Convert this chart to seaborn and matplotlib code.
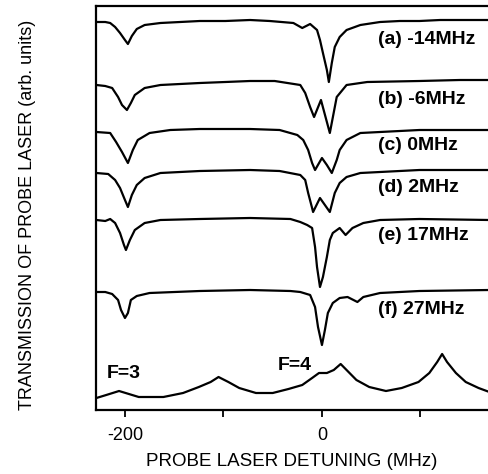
import matplotlib
matplotlib.use("Agg")
import matplotlib.pyplot as plt
import seaborn as sns
import pandas as pd
from matplotlib.ticker import FixedLocator

# ---------------- data ----------------
det_a = [-229, -220, -215, -210, -205, -200, -197, -193, -188, -180, -164, -144, -124, -98, -73, -53,
         -29, -20, -12, -5, -2, 1, 5, 7, 10, 13, 18, 25, 39, 59, 79, 99, 120, 140, 170]
sig_a = [388, 388, 387, 383, 377, 370, 366, 374, 381, 385, 387, 388, 389, 389, 390, 389,
         387, 382, 386, 380, 370, 357, 340, 328, 347, 363, 373, 380, 385, 388, 389, 389, 390, 390, 390]

det_b = [-229, -220, -213, -207, -203, -198, -194, -190, -180, -164, -144, -124, -98, -73, -48,
         -22, -17, -12, -8, -1, 8, 15, 25, 46, 99, 140, 170]
sig_b = [325, 324, 322, 313, 305, 300, 307, 315, 322, 325, 326, 327, 328, 329, 329,
         325, 317, 303, 293, 310, 277, 313, 325, 328, 329, 330, 330]

det_c = [-229, -215, -209, -203, -197, -192, -187, -175, -154, -124, -73, -43,
         -25, -19, -14, -10, -7, 0, 5, 10, 15, 18, 25, 39, 59, 99, 170]
sig_c = [278, 277, 268, 258, 247, 260, 270, 277, 280, 281, 281, 280,
         275, 270, 260, 247, 240, 252, 245, 237, 250, 260, 270, 277, 278, 280, 280]

det_d = [-229, -217, -210, -205, -200, -197, -193, -188, -180, -164, -124, -73, -43,
         -22, -17, -14, -10, -9, -2, 8, 13, 18, 25, 39, 59, 99, 170]
sig_d = [237, 236, 230, 222, 210, 203, 215, 225, 232, 237, 239, 240, 239,
         235, 230, 217, 202, 198, 212, 198, 217, 227, 233, 237, 238, 240, 240]

det_e = [-229, -220, -215, -210, -205, -201, -199, -195, -190, -180, -164, -124, -73, -32,
         -22, -15, -10, -7, -5, -2, 1, 5, 8, 11, 18, 24, 31, 42, 59, 99, 170]
sig_e = [190, 189, 191, 187, 177, 165, 160, 170, 180, 187, 190, 191, 192, 191,
         188, 185, 182, 163, 143, 123, 133, 153, 170, 177, 182, 175, 182, 187, 190, 191, 190]

det_f = [-229, -220, -213, -207, -204, -200, -197, -194, -188, -175, -124, -73, -32,
         -22, -12, -7, -4, 0, 3, 6, 11, 18, 26, 36, 42, 59, 99, 170]
sig_f = [118, 118, 116, 110, 100, 92, 97, 110, 114, 117, 119, 120, 119,
         118, 115, 103, 83, 65, 80, 97, 107, 112, 113, 108, 113, 117, 119, 120]

det_ref = [-229, -219, -206, -196, -186, -161, -141, -125, -113, -105, -95, -84, -67, -50, -34,
           -20, -10, -3, 5, 12, 19, 25, 35, 48, 65, 81, 98, 109, 117, 122, 127, 136, 146, 159, 170]
sig_ref = [12, 15, 19, 16, 13, 13, 17, 23, 28, 33, 28, 22, 17, 17, 21,
           25, 32, 37, 37, 40, 46, 40, 30, 23, 19, 22, 28, 37, 48, 56, 48, 37, 28, 22, 18]

trace_names = ["a", "b", "c", "d", "e", "f", "ref"]
panel_labels = ["(a) -14MHz", "(b) -6MHz", "(c) 0MHz", "(d) 2MHz", "(e) 17MHz", "(f) 27MHz"]
level_labels = ["F=3", "F=4"]
tick_values = [-200, 0]
tick_labels = ["-200", "0"]
minor_tick_values = [-100, 100]

frames = []
for name, d, s in zip(trace_names,
                      [det_a, det_b, det_c, det_d, det_e, det_f, det_ref],
                      [sig_a, sig_b, sig_c, sig_d, sig_e, sig_f, sig_ref]):
    frames.append(pd.DataFrame({"detuning": d, "signal": s, "trace": name}))
df = pd.concat(frames, ignore_index=True)

# ---------------- layout / style ----------------
sns.set_theme(style="ticks")
plt.rcParams['font.family'] = ['Liberation Sans', 'DejaVu Sans']
plt.rcParams['axes.unicode_minus'] = False

W, H = 489, 474
fig = plt.figure(figsize=(W / 100, H / 100), dpi=100)
ax = fig.add_axes([96 / W, 64 / H, 393 / W, 404 / H])

sns.lineplot(data=df, x="detuning", y="signal", hue="trace", units="trace", estimator=None,
             sort=False, palette=["black"] * len(trace_names), legend=False, linewidth=1.6, ax=ax)

ax.set_xlim(-229.4, 169.6)
ax.set_ylim(0, 404)
ax.set_yticks([])
ax.set_xlabel("")
ax.set_ylabel("")
ax.spines['right'].set_visible(False)
for sp in ["left", "top", "bottom"]:
    ax.spines[sp].set_linewidth(1.6)
    ax.spines[sp].set_color("black")

ax.xaxis.set_major_locator(FixedLocator(tick_values))
ax.set_xticklabels(tick_labels)
ax.xaxis.set_minor_locator(FixedLocator(minor_tick_values))
ax.tick_params(axis="x", which="both", direction="out", length=5, width=1.3, color="black",
               labelsize=13, pad=7, labelcolor="black")

label_pos = [(57, 370), (57, 310), (57, 265), (57, 222), (57, 175), (57, 100)]
for txt, (x, y) in zip(panel_labels, label_pos):
    ax.text(x, y, txt, ha="left", va="center", fontsize=14, fontweight="bold", color="black")

level_pos = [(-218, 37), (-45, 45)]
for txt, (x, y) in zip(level_labels, level_pos):
    ax.text(x, y, txt, ha="left", va="center", fontsize=14, fontweight="bold", color="black")

fig.text(292 / W, 1 - 462 / H, "PROBE LASER DETUNING (MHz)", ha="center", va="center",
         fontsize=13.5, color="black")
fig.text(28 / W, 1 - 215 / H, "TRANSMISSION OF PROBE LASER (arb. units)", ha="center", va="center",
         rotation=90, fontsize=13, color="black")

fig.savefig("out.png", dpi=100)
